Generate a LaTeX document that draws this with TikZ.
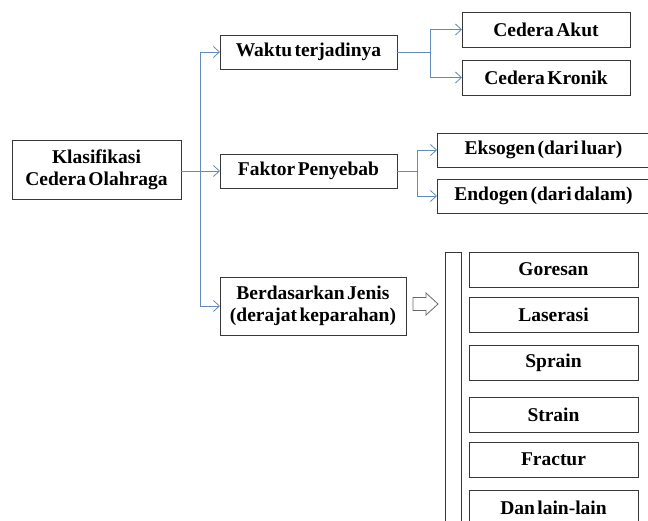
\documentclass[tikz,border=0pt]{standalone}
\usepackage{fontspec}
\setmainfont{Liberation Serif}[BoldFont={Liberation Serif Bold}, WordSpace=0.5]
\usetikzlibrary{arrows.meta}

\definecolor{linkblue}{RGB}{98,138,188}
\definecolor{boxgray}{RGB}{55,55,55}

\tikzset{
  box/.style={draw=boxgray, line width=0.8pt, inner sep=0pt, outer sep=0pt,
    align=center, font=\bfseries\fontsize{19.5}{22}\selectfont},
  link/.style={draw=linkblue, line width=0.8pt},
  linkarrow/.style={link, -{Straight Barb[length=6pt,width=11pt]}},
}

\begin{document}
\begin{tikzpicture}[x=1pt,y=-1pt]
  \useasboundingbox (0,0) rectangle (648,521);

  % main levels
  \node[box, minimum width=169, minimum height=59] (root) at (96.5,169.5) {Klasifikasi\\Cedera Olahraga};
  \node[box, minimum width=177, minimum height=34] (waktu) at (308.5,52) {Waktu terjadinya};
  \node[box, minimum width=177, minimum height=34] (faktor) at (308.5,171) {Faktor Penyebab};
  \node[box, minimum width=186, minimum height=58] (jenis) at (313,306) {Berdasarkan Jenis\\(derajat keparahan)};

  % second level
  \node[box, minimum width=168, minimum height=35] (akut) at (546,29.5) {Cedera Akut};
  \node[box, minimum width=168, minimum height=35] (kronik) at (546,77.5) {Cedera Kronik};
  \node[box, minimum width=213, minimum height=34] (eksogen) at (543.5,150) {Eksogen (dari luar)};
  \node[box, minimum width=213, minimum height=34] (endogen) at (543.5,196) {Endogen (dari dalam)};

  % list of types
  \draw[boxgray, line width=0.8pt] (445,252) rectangle (461,530);
  \foreach \name/\y/\txt in {goresan/269.5/Goresan, laserasi/315/Laserasi,
      sprain/363/Sprain, strain/414.5/Strain, fractur/459.5/Fractur,
      lain/507.5/Dan lain-lain}{
    \node[box, minimum width=169, minimum height=35] (\name) at (553.5,\y) {\txt};
  }

  % hollow arrow
  \draw[boxgray!75, line width=0.8pt] (413,297.5) -- (426,297.5) -- (426,293)
    -- (438,304) -- (426,315) -- (426,310.5) -- (413,310.5) -- cycle;

  % connectors
  \coordinate (fork1) at (200,171);
  \coordinate (fork2) at (430,52);
  \coordinate (fork3) at (417,171);

  \draw[linkarrow] (root.east |- fork1) -- (faktor.west);
  \draw[linkarrow] (fork1) |- (waktu.west);
  \draw[linkarrow] (fork1) |- (jenis.west);

  \draw[link] (waktu.east) -- (fork2);
  \draw[linkarrow] (fork2) |- (akut.west);
  \draw[linkarrow] (fork2) |- (kronik.west);

  \draw[link] (faktor.east) -- (fork3);
  \draw[linkarrow] (fork3) |- (eksogen.west);
  \draw[linkarrow] (fork3) |- (endogen.west);
\end{tikzpicture}
\end{document}
